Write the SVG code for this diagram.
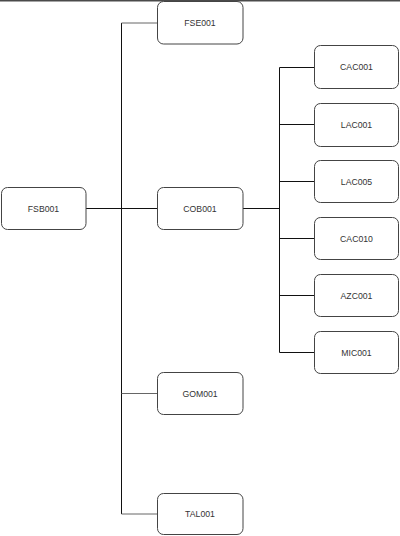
<svg xmlns="http://www.w3.org/2000/svg" width="400" height="536" viewBox="0 0 400 536">
<style>
.n rect{fill:#fff;stroke:#444;stroke-width:1}
.n text{font-family:"Liberation Sans",Arial,sans-serif;font-size:8.7px;fill:#333;text-anchor:middle}
.c path{fill:none;stroke:#111;stroke-width:1}
.c path.g{stroke:#666}
</style>
<rect x="0" y="0" width="400" height="1.5" fill="#4a4a4a"/>
<g class="c" id="connectors">
<path d="M86 208.5H157"/>
<path d="M121.5 23V514"/>
<path class="g" d="M121.5 23H157"/>
<path class="g" d="M121.5 393.5H157"/>
<path class="g" d="M121.5 514H157"/>
<path d="M243 208.5H279.5"/>
<path d="M279.5 67.5V352.5"/>
<path d="M279.5 67.5H314M279.5 124.5H314M279.5 181.5H314M279.5 238.5H314M279.5 295.5H314M279.5 352.5H314"/>
</g>
<g class="n" id="FSB001"><rect x="1.5" y="187.5" width="84.5" height="42" rx="6"/><text x="43.5" y="211.5">FSB001</text></g>
<g class="n" id="FSE001"><rect x="157.5" y="1.5" width="85.5" height="42.5" rx="6"/><text x="200" y="25.5">FSE001</text></g>
<g class="n" id="COB001"><rect x="157.5" y="187.5" width="85.5" height="42" rx="6"/><text x="200" y="211.5">COB001</text></g>
<g class="n" id="GOM001"><rect x="157.5" y="372.5" width="85.5" height="42" rx="6"/><text x="200" y="396.5">GOM001</text></g>
<g class="n" id="TAL001"><rect x="157.5" y="493.5" width="85.5" height="41" rx="6"/><text x="200" y="517">TAL001</text></g>
<g class="n" id="CAC001"><rect x="314.5" y="45.5" width="84" height="43" rx="6"/><text x="356.5" y="70">CAC001</text></g>
<g class="n" id="LAC001"><rect x="314.5" y="103.5" width="84" height="43" rx="6"/><text x="356.5" y="127.5">LAC001</text></g>
<g class="n" id="LAC005"><rect x="314.5" y="160.5" width="84" height="42" rx="6"/><text x="356.5" y="184.5">LAC005</text></g>
<g class="n" id="CAC010"><rect x="314.5" y="217.5" width="84" height="42" rx="6"/><text x="356.5" y="241.5">CAC010</text></g>
<g class="n" id="AZC001"><rect x="314.5" y="274.5" width="84" height="42" rx="6"/><text x="356.5" y="298.5">AZC001</text></g>
<g class="n" id="MIC001"><rect x="314.5" y="331.5" width="84" height="42" rx="6"/><text x="356.5" y="355.5">MIC001</text></g>
</svg>
